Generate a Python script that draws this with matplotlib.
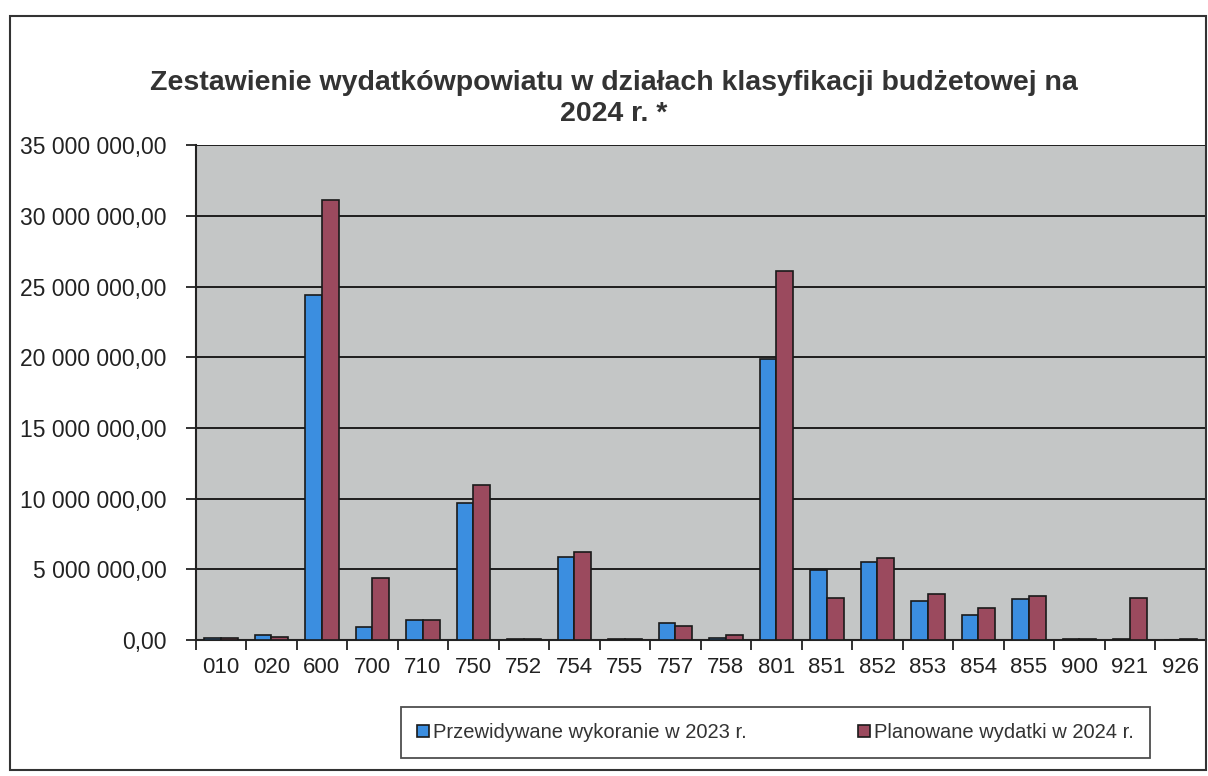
import matplotlib
matplotlib.use("Agg")
import matplotlib.pyplot as plt
from matplotlib.patches import Rectangle
from matplotlib.ticker import FuncFormatter, MultipleLocator
import numpy as np

# Budget divisions (dział) and amounts in PLN
categories = ['010', '020', '600', '700', '710', '750', '752', '754', '755', '757',
              '758', '801', '851', '852', '853', '854', '855', '900', '921', '926']
exp_2023 = [0.15e6, 0.35e6, 24.4e6, 0.9e6, 1.4e6, 9.7e6, 0.05e6, 5.85e6, 0.05e6, 1.2e6,
            0.15e6, 19.85e6, 4.95e6, 5.5e6, 2.75e6, 1.75e6, 2.9e6, 0.05e6, 0.08e6, 0.02e6]
plan_2024 = [0.15e6, 0.2e6, 31.15e6, 4.4e6, 1.45e6, 11.0e6, 0.1e6, 6.25e6, 0.08e6, 1.0e6,
             0.4e6, 26.1e6, 2.95e6, 5.8e6, 3.3e6, 2.25e6, 3.1e6, 0.08e6, 2.95e6, 0.08e6]
series_labels = ['Przewidywane wykoranie w 2023 r.', 'Planowane wydatki w 2024 r.']

blue = '#3b8ee0'
wine = '#9b4a5e'
font = ['Liberation Sans', 'DejaVu Sans']
plt.rcParams['font.family'] = font

fig = plt.figure(figsize=(12.08, 7.76), dpi=100)
fig.patch.set_facecolor('white')

# outer chart frame
fig.patches.append(Rectangle((0.008, 0.008), 0.99, 0.972, transform=fig.transFigure,
                             fill=False, edgecolor='#333333', linewidth=1.5))

ax = fig.add_axes([0.162, 0.175, 0.836, 0.638])
ax.set_facecolor('#c4c6c6')

x = np.arange(len(categories))
w = 0.33
ax.bar(x - w / 2, exp_2023, w, color=blue, edgecolor='#1a1a1a', linewidth=1.2,
       label=series_labels[0], zorder=3)
ax.bar(x + w / 2, plan_2024, w, color=wine, edgecolor='#1a1a1a', linewidth=1.2,
       label=series_labels[1], zorder=3)

ax.set_xlim(-0.5, len(categories) - 0.5)
ax.set_ylim(0, 35e6)
ax.yaxis.set_major_locator(MultipleLocator(5e6))
ax.yaxis.set_major_formatter(FuncFormatter(
    lambda v, p: f"{v:,.2f}".replace(',', ' ').replace('.', ',')))
ax.grid(axis='y', color='#111111', linewidth=1.3, zorder=1)

ax.set_xticks(x)
ax.set_xticklabels(categories)
ax.set_xticks(np.arange(-0.5, len(categories), 1), minor=True)
ax.tick_params(axis='x', which='major', length=0, pad=12, labelsize=16, colors='#222222')
ax.tick_params(axis='x', which='minor', length=7, width=1.3, direction='out', color='#222222')
ax.tick_params(axis='y', length=7, width=1.3, direction='out', pad=14, labelsize=16.5,
               colors='#222222')

for side in ['top', 'right']:
    ax.spines[side].set_visible(False)
ax.spines['left'].set_linewidth(1.5)
ax.spines['left'].set_color('#222222')
ax.spines['bottom'].set_linewidth(1.5)
ax.spines['bottom'].set_color('#222222')

fig.text(0.508, 0.893, 'Zestawienie wydatkówpowiatu w działach klasyfikacji budżetowej na',
         ha='center', va='center', fontsize=20.5, fontweight='bold', color='#333333')
fig.text(0.508, 0.853, '2024 r. *', ha='center', va='center', fontsize=20.5,
         fontweight='bold', color='#333333')

leg = fig.legend(loc='center', bbox_to_anchor=(0.642, 0.056), ncol=2, frameon=True,
                 fancybox=False, fontsize=14.5, handlelength=0.6, handleheight=0.6,
                 handletextpad=0.2, columnspacing=5.5, borderpad=0.8)
leg.get_frame().set_edgecolor('#222222')
leg.get_frame().set_linewidth(1.3)
for t in leg.get_texts():
    t.set_color('#333333')

fig.savefig('out.png', dpi=100, facecolor='white')
